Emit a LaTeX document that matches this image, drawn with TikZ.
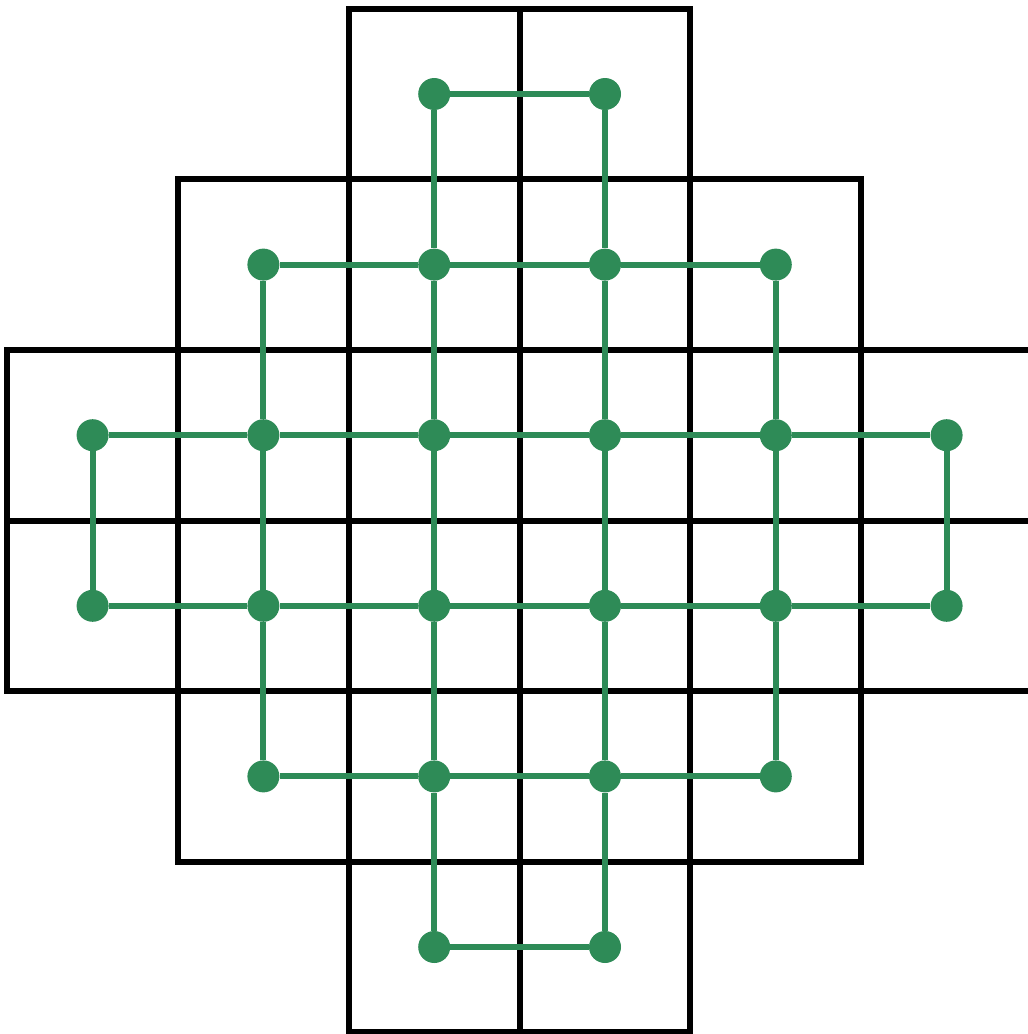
\documentclass[tikz,border=0pt]{standalone}
\definecolor{dotgreen}{RGB}{46,139,87}
\tikzset{
  cellbox/.style={draw=black,line width=6pt},
  dotnode/.style={circle,fill=dotgreen,draw=none,minimum size=32pt,inner sep=0pt},
  link/.style={draw=dotgreen,line width=6pt}
}
\begin{document}
\begin{tikzpicture}[x=1pt,y=-1pt]
\useasboundingbox (0,0) rectangle (1028,1034);
\clip (0,0) rectangle (1028,1034);
\def\cx{170.8}
\def\cy{170.6}
% cells
\foreach \r/\a/\b in {0/2/3,1/1/4,2/0/5,3/0/5,4/1/4,5/2/3}{
  \foreach \c in {\a,...,\b}{
    \draw[cellbox] ({7.2+\cx*\c},{8.7+\cy*\r}) rectangle ++(\cx,\cy);
    \node[dotnode] (d-\r-\c) at ({7.2+\cx*(\c+0.5)},{8.7+\cy*(\r+0.5)}) {};
  }
}
% horizontal links
\foreach \r/\a/\b in {0/2/3,1/1/4,2/0/5,3/0/5,4/1/4,5/2/3}{
  \foreach \c [evaluate=\c as \n using int(\c+1)] in {\a,...,\b}{
    \ifnum\c<\b \draw[link] (d-\r-\c) -- (d-\r-\n);\fi
  }
}
% vertical links
\foreach \c/\a/\b in {0/2/3,1/1/4,2/0/5,3/0/5,4/1/4,5/2/3}{
  \foreach \r [evaluate=\r as \n using int(\r+1)] in {\a,...,\b}{
    \ifnum\r<\b \draw[link] (d-\r-\c) -- (d-\n-\c);\fi
  }
}
\end{tikzpicture}
\end{document}
